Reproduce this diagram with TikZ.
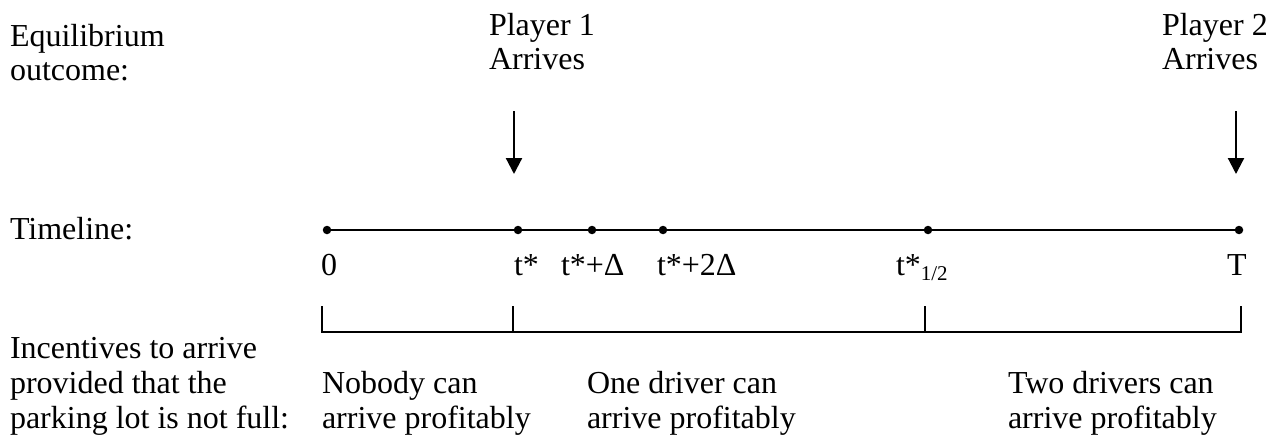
\documentclass[tikz,border=0pt]{standalone}
\usepackage{fontspec}
\setmainfont{Liberation Serif}
\usetikzlibrary{arrows.meta}

\begin{document}
\begin{tikzpicture}[x=1pt,y=-1pt,
  % multi-line texts are placed by the baseline of their last line
  txt/.style={anchor=base west,inner sep=0pt,outer sep=0pt,align=left,
              font=\fontsize{32}{34.8}\selectfont},
  lbl/.style={anchor=base west,inner sep=0pt,outer sep=0pt,
              font=\fontsize{32}{34.8}\selectfont},
  axis/.style={line width=2.8pt},
  brace/.style={line width=2.6pt},
  down/.style={line width=2.2pt,-{Triangle[length=16pt,width=16pt]}},
  dot/.style={circle,fill=black,inner sep=0pt,minimum size=8.5pt}]
\useasboundingbox (0,0) rectangle (1274,444);

% row headings
\node[txt] (hEq) at (10,81) {Equilibrium\\outcome:};
\node[txt] (hTime) at (10,239) {Timeline:};
\node[txt] (hInc) at (10,428) {Incentives to arrive\\provided that the\\parking lot is not full:};

% arrivals
\node[txt] (p1) at (489,70) {Player 1\\Arrives};
\node[txt] (p2) at (1162,70) {Player 2\\Arrives};
\coordinate (a1s) at (514,111);
\coordinate (a1e) at (514,174);
\coordinate (a2s) at (1236,111);
\coordinate (a2e) at (1236,174);
\draw[down] (a1s) -- (a1e);
\draw[down] (a2s) -- (a2e);

% timeline
\coordinate (t0) at (327,230);
\coordinate (ts) at (518,230);
\coordinate (tsd) at (592,230);
\coordinate (tsdd) at (663,230);
\coordinate (th) at (928,230);
\coordinate (tT) at (1239,230);
\draw[axis] (t0) -- (tT);
\foreach \p in {t0,ts,tsd,tsdd,th,tT} \node[dot] at (\p) {};

\node[lbl] (l0) at (321,275) {0};
\node[lbl] (ls) at (514,275) {t*};
\node[lbl] (lsd) at (561,275) {t*+Δ};
\node[lbl] (lsdd) at (657,275) {t*+2Δ};
\node[lbl] (lh) at (896,275) {t*\raisebox{-0.17em}{\fontsize{21}{21}\selectfont 1/2}};
\node[lbl] (lT) at (1227,275) {T};

% incentive intervals
\coordinate (b0) at (322,332);
\coordinate (b1) at (513,332);
\coordinate (b2) at (925,332);
\coordinate (b3) at (1241,332);
\draw[brace] (b0) ++(0,-26) -- (b0) -- (b3) -- ++(0,-26);
\draw[brace] (b1) -- ++(0,-26);
\draw[brace] (b2) -- ++(0,-26);

\node[txt] (i1) at (322,428) {Nobody can\\arrive profitably};
\node[txt] (i2) at (587,428) {One driver can\\arrive profitably};
\node[txt] (i3) at (1008,428) {Two drivers can\\arrive profitably};
\end{tikzpicture}
\end{document}
